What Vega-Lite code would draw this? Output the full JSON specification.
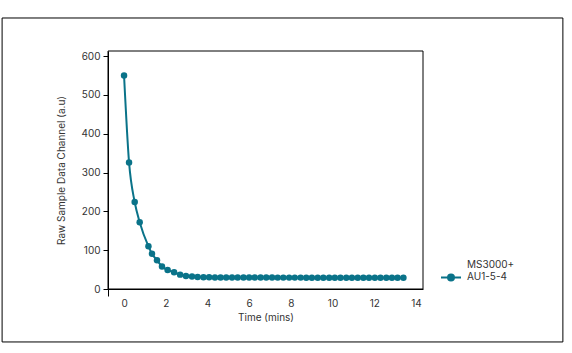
{
  "$schema": "https://vega.github.io/schema/vega-lite/v6.json",
  "width": 315,
  "height": 238,
  "autosize": {"type": "none"},
  "padding": {"left": 108, "top": 51, "right": 149, "bottom": 64},
  "background": "white",
  "config": {
    "font": "Inter",
    "view": {"stroke": null, "fill": "white"},
    "axis": {
      "labelFont": "Inter",
      "titleFont": "Inter",
      "labelFontSize": 10,
      "titleFontSize": 10,
      "labelColor": "#333333",
      "titleColor": "#333333",
      "titleFontWeight": "normal",
      "domainColor": "black"
    },
    "legend": {"labelFont": "Inter", "labelFontSize": 10, "labelColor": "#333333"}
  },
  "data": {
    "values": [
      {"t": 0, "v": 550, "series": "MS3000+ AU1-5-4"},
      {"t": 0.24, "v": 326, "series": "MS3000+ AU1-5-4"},
      {"t": 0.51, "v": 224, "series": "MS3000+ AU1-5-4"},
      {"t": 0.75, "v": 172, "series": "MS3000+ AU1-5-4"},
      {"t": 1.17, "v": 110, "series": "MS3000+ AU1-5-4"},
      {"t": 1.34, "v": 91, "series": "MS3000+ AU1-5-4"},
      {"t": 1.58, "v": 74, "series": "MS3000+ AU1-5-4"},
      {"t": 1.82, "v": 58, "series": "MS3000+ AU1-5-4"},
      {"t": 2.09, "v": 49, "series": "MS3000+ AU1-5-4"},
      {"t": 2.40, "v": 43, "series": "MS3000+ AU1-5-4"},
      {"t": 2.69, "v": 37, "series": "MS3000+ AU1-5-4"},
      {"t": 2.97, "v": 33.5, "series": "MS3000+ AU1-5-4"},
      {"t": 3.26, "v": 32, "series": "MS3000+ AU1-5-4"},
      {"t": 3.53, "v": 31, "series": "MS3000+ AU1-5-4"},
      {"t": 3.81, "v": 30.5, "series": "MS3000+ AU1-5-4"},
      {"t": 4.08, "v": 30, "series": "MS3000+ AU1-5-4"},
      {"t": 4.36, "v": 29.8, "series": "MS3000+ AU1-5-4"},
      {"t": 4.63, "v": 29.7, "series": "MS3000+ AU1-5-4"},
      {"t": 4.90, "v": 29.6, "series": "MS3000+ AU1-5-4"},
      {"t": 5.18, "v": 29.6, "series": "MS3000+ AU1-5-4"},
      {"t": 5.45, "v": 29.5, "series": "MS3000+ AU1-5-4"},
      {"t": 5.73, "v": 29.5, "series": "MS3000+ AU1-5-4"},
      {"t": 6.00, "v": 29.5, "series": "MS3000+ AU1-5-4"},
      {"t": 6.27, "v": 29.4, "series": "MS3000+ AU1-5-4"},
      {"t": 6.55, "v": 29.4, "series": "MS3000+ AU1-5-4"},
      {"t": 6.82, "v": 29.4, "series": "MS3000+ AU1-5-4"},
      {"t": 7.10, "v": 29.4, "series": "MS3000+ AU1-5-4"},
      {"t": 7.37, "v": 29.3, "series": "MS3000+ AU1-5-4"},
      {"t": 7.64, "v": 29.3, "series": "MS3000+ AU1-5-4"},
      {"t": 7.92, "v": 29.3, "series": "MS3000+ AU1-5-4"},
      {"t": 8.19, "v": 29.3, "series": "MS3000+ AU1-5-4"},
      {"t": 8.47, "v": 29.3, "series": "MS3000+ AU1-5-4"},
      {"t": 8.74, "v": 29.2, "series": "MS3000+ AU1-5-4"},
      {"t": 9.01, "v": 29.2, "series": "MS3000+ AU1-5-4"},
      {"t": 9.29, "v": 29.2, "series": "MS3000+ AU1-5-4"},
      {"t": 9.56, "v": 29.2, "series": "MS3000+ AU1-5-4"},
      {"t": 9.84, "v": 29.2, "series": "MS3000+ AU1-5-4"},
      {"t": 10.11, "v": 29.2, "series": "MS3000+ AU1-5-4"},
      {"t": 10.38, "v": 29.1, "series": "MS3000+ AU1-5-4"},
      {"t": 10.66, "v": 29.1, "series": "MS3000+ AU1-5-4"},
      {"t": 10.93, "v": 29.1, "series": "MS3000+ AU1-5-4"},
      {"t": 11.21, "v": 29.1, "series": "MS3000+ AU1-5-4"},
      {"t": 11.48, "v": 29.1, "series": "MS3000+ AU1-5-4"},
      {"t": 11.75, "v": 29.1, "series": "MS3000+ AU1-5-4"},
      {"t": 12.03, "v": 29.0, "series": "MS3000+ AU1-5-4"},
      {"t": 12.30, "v": 29.0, "series": "MS3000+ AU1-5-4"},
      {"t": 12.58, "v": 29.0, "series": "MS3000+ AU1-5-4"},
      {"t": 12.85, "v": 29.0, "series": "MS3000+ AU1-5-4"},
      {"t": 13.12, "v": 29.0, "series": "MS3000+ AU1-5-4"},
      {"t": 13.40, "v": 29.0, "series": "MS3000+ AU1-5-4"}
    ]
  },
  "layer": [
    {
      "data": {"values": [{"frame": "outer"}]},
      "mark": {"type": "rect", "fill": null, "fillOpacity": 0, "stroke": "black", "strokeWidth": 1, "clip": false},
      "encoding": {
        "x": {"datum": -5.85, "type": "quantitative", "title": "Time (mins)", "scale": {"domain": [-0.77, 14.34], "nice": false, "zero": false},
          "axis": {"values": [-0.77, 0, 1, 2, 3, 4, 5, 6, 7, 8, 9, 10, 11, 12, 13, 14], "labelExpr": "datum.value >= 0 && datum.value % 2 == 0 ? datum.label : ''", "labelOverlap": false, "labelFlush": false, "tickSize": 7, "tickColor": {"condition": {"test": "datum.value < 0", "value": "black"}, "value": "transparent"}, "gridColor": {"condition": {"test": "datum.value < 0", "value": "transparent"}, "value": "#dddddd"}, "labelPadding": 2, "titlePadding": 4}},
        "x2": {"datum": 21.05},
        "y": {"datum": 698, "type": "quantitative", "title": "Raw Sample Data Channel (a.u)", "scale": {"domain": [0, 613], "nice": false},
          "axis": {"values": [0, 100, 200, 300, 400, 500, 600], "tickSize": 5, "tickColor": "black", "gridColor": "#dddddd", "labelPadding": 3, "titlePadding": 14}},
        "y2": {"datum": -136.4}
      }
    },
    {
      "data": {"values": [{"frame": "plot"}]},
      "mark": {"type": "rect", "fill": null, "fillOpacity": 0, "stroke": "black", "strokeWidth": 1, "clip": false},
      "encoding": {
        "x": {"datum": -0.77, "type": "quantitative", "title": "Time (mins)",
          "axis": {"values": [-0.77, 0, 1, 2, 3, 4, 5, 6, 7, 8, 9, 10, 11, 12, 13, 14], "labelExpr": "datum.value >= 0 && datum.value % 2 == 0 ? datum.label : ''", "labelOverlap": false, "labelFlush": false, "tickSize": 7, "tickColor": {"condition": {"test": "datum.value < 0", "value": "black"}, "value": "transparent"}, "gridColor": {"condition": {"test": "datum.value < 0", "value": "transparent"}, "value": "#dddddd"}, "labelPadding": 2, "titlePadding": 4}},
        "x2": {"datum": 14.34},
        "y": {"datum": 613, "type": "quantitative", "title": "Raw Sample Data Channel (a.u)",
          "axis": {"values": [0, 100, 200, 300, 400, 500, 600], "tickSize": 5, "tickColor": "black", "gridColor": "#dddddd", "labelPadding": 3, "titlePadding": 14}},
        "y2": {"datum": 0}
      }
    },
    {
      "mark": {"type": "line", "interpolate": "monotone", "strokeWidth": 2},
      "encoding": {
        "x": {"field": "t", "type": "quantitative", "title": "Time (mins)",
          "axis": {"values": [-0.77, 0, 1, 2, 3, 4, 5, 6, 7, 8, 9, 10, 11, 12, 13, 14], "labelExpr": "datum.value >= 0 && datum.value % 2 == 0 ? datum.label : ''", "labelOverlap": false, "labelFlush": false, "tickSize": 7, "tickColor": {"condition": {"test": "datum.value < 0", "value": "black"}, "value": "transparent"}, "gridColor": {"condition": {"test": "datum.value < 0", "value": "transparent"}, "value": "#dddddd"}, "labelPadding": 2, "titlePadding": 4}},
        "y": {"field": "v", "type": "quantitative", "title": "Raw Sample Data Channel (a.u)",
          "axis": {"values": [0, 100, 200, 300, 400, 500, 600], "tickSize": 5, "tickColor": "black", "gridColor": "#dddddd", "labelPadding": 3, "titlePadding": 14}},
        "color": {
          "field": "series",
          "type": "nominal",
          "scale": {"range": ["#0a7389"]},
          "legend": {
            "title": null,
            "orient": "none",
            "legendX": 332,
            "legendY": 203,
            "padding": 0,
            "symbolType": "M-1,1.25L1,1.25M-0.3,1.25A0.3,0.3,0,1,0,0.3,1.25A0.3,0.3,0,1,0,-0.3,1.25Z",
            "symbolSize": 400,
            "symbolStrokeWidth": 2,
            "symbolFillColor": "#0a7389",
            "symbolStrokeColor": "#0a7389",
            "labelOffset": 5,
            "labelExpr": "split(datum.label, ' ')"
          }
        }
      }
    },
    {
      "mark": {"type": "point", "filled": true, "size": 42, "opacity": 1, "color": "#0a7389"},
      "encoding": {
        "x": {"field": "t", "type": "quantitative", "title": "Time (mins)",
          "axis": {"values": [-0.77, 0, 1, 2, 3, 4, 5, 6, 7, 8, 9, 10, 11, 12, 13, 14], "labelExpr": "datum.value >= 0 && datum.value % 2 == 0 ? datum.label : ''", "labelOverlap": false, "labelFlush": false, "tickSize": 7, "tickColor": {"condition": {"test": "datum.value < 0", "value": "black"}, "value": "transparent"}, "gridColor": {"condition": {"test": "datum.value < 0", "value": "transparent"}, "value": "#dddddd"}, "labelPadding": 2, "titlePadding": 4}},
        "y": {"field": "v", "type": "quantitative", "title": "Raw Sample Data Channel (a.u)",
          "axis": {"values": [0, 100, 200, 300, 400, 500, 600], "tickSize": 5, "tickColor": "black", "gridColor": "#dddddd", "labelPadding": 3, "titlePadding": 14}}
      }
    }
  ]
}
